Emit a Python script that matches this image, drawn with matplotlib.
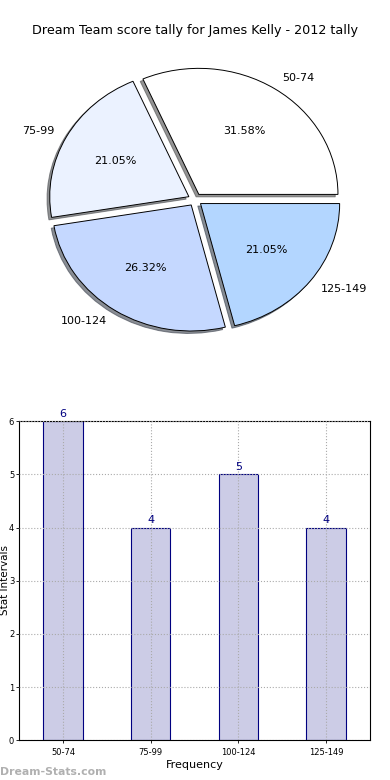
import matplotlib
matplotlib.use("Agg")
import matplotlib.pyplot as plt

# ---------------------------
# data
# ---------------------------
title = "Dream Team score tally for James Kelly - 2012 tally"
categories = ["50-74", "75-99", "100-124", "125-149"]
counts = [6, 4, 5, 4]
pie_colors = ["#ffffff", "#ebf2ff", "#c5d8ff", "#b3d6ff"]

fig = plt.figure(figsize=(3.9, 7.8), dpi=100)

# ---------------------------
# pie chart (top)
# ---------------------------
ax1 = fig.add_axes([0.054, 0.542, 0.892, 0.404])
wedges, texts, autotexts = ax1.pie(
    counts, labels=categories, colors=pie_colors, autopct="%.2f%%",
    explode=[0.05] * len(counts),
    shadow=dict(ox=-0.014, oy=-0.014, alpha=0.6), startangle=0,
    wedgeprops=dict(edgecolor="black", linewidth=0.7),
    textprops=dict(fontsize=8))
ax1.set_aspect("auto")
ax1.set_xlim(-1.25, 1.25)
ax1.set_ylim(-1.25, 1.25)
fig.text(0.5, 0.961, title, ha="center", va="center", fontsize=9.2)

# ---------------------------
# bar chart (bottom)
# ---------------------------
ax2 = fig.add_axes([0.049, 0.051, 0.9, 0.409])
x = list(range(len(categories)))
bars = ax2.bar(x, counts, width=0.45, color="#ccccE6", edgecolor="#000080",
               linewidth=0.8, zorder=1)
for xi, c in zip(x, counts):
    ax2.text(xi, c + 0.05, str(c), ha="center", va="bottom",
             fontsize=8, color="#000080")
ax2.set_xlim(-0.5, 3.5)
ax2.set_ylim(0, 6)
ax2.set_xticks(x)
ax2.set_xticklabels(categories)
ax2.set_yticks(range(0, 7))
ax2.tick_params(labelsize=6, length=2, width=0.6)
ax2.tick_params(axis="y", pad=1.5)
ax2.grid(True, linestyle=":", color="#aaaaaa", linewidth=0.8, zorder=3)
ax2.set_axisbelow(False)
ax2.set_xlabel("Frequency", fontsize=8, labelpad=2)
fig.text(-0.001, 0.256, "Stat Intervals", fontsize=7.5, rotation=90,
         ha="left", va="center")

fig.text(0.0, 0.004, "Dream-Stats.com", fontsize=7.8, color="#b0b0b0",
         fontweight="bold", ha="left", va="bottom")

fig.savefig("out.png", dpi=100)
